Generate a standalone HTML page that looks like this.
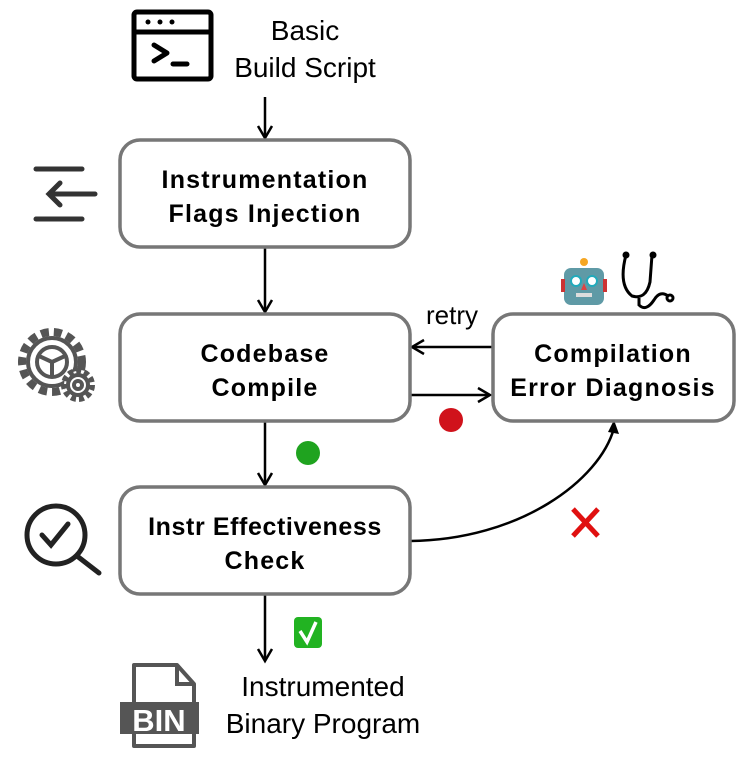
<!DOCTYPE html>
<html><head><meta charset="utf-8"><style>
html,body{margin:0;padding:0;background:#fff;}
svg{display:block;}
.b{font-family:"Liberation Sans","DejaVu Sans",sans-serif;font-weight:bold;font-size:25px;letter-spacing:1.2px;fill:#000;text-anchor:middle;}
.n{font-family:"Liberation Sans","DejaVu Sans",sans-serif;font-size:28px;fill:#000;text-anchor:middle;}
</style></head><body>
<svg width="747" height="763" viewBox="0 0 747 763" xmlns="http://www.w3.org/2000/svg">
<g fill="none" stroke="#000" stroke-width="2.5">
 <line x1="265" y1="97" x2="265" y2="138"/><polyline points="258,126 265,138 272,126"/>
 <line x1="265" y1="248" x2="265" y2="312"/><polyline points="258,300 265,312 272,300"/>
 <line x1="265" y1="422" x2="265" y2="485"/><polyline points="258,473 265,485 272,473"/>
 <line x1="265" y1="595" x2="265" y2="661"/><polyline points="258,649 265,661 272,649"/>
 <line x1="492" y1="347" x2="412" y2="347"/><polyline points="424,340 412,347 424,354"/>
 <line x1="410" y1="395" x2="490" y2="395"/><polyline points="478,388 490,395 478,402"/>
 <path d="M410 541 C520 540 600 480 614 428"/>
</g>
<polygon points="608,432 614,420 619,434" fill="#000"/>
<g fill="#fff" stroke="#777" stroke-width="3.5">
 <rect x="120" y="140" width="290" height="107" rx="20"/>
 <rect x="120" y="314" width="290" height="107" rx="20"/>
 <rect x="493" y="314" width="241" height="107" rx="20"/>
 <rect x="120" y="487" width="290" height="107" rx="20"/>
</g>
<text class="b" x="265" y="188">Instrumentation</text>
<text class="b" x="265" y="222">Flags Injection</text>
<text class="b" x="265" y="362">Codebase</text>
<text class="b" x="265" y="396">Compile</text>
<text class="b" x="613" y="362">Compilation</text>
<text class="b" x="613" y="396">Error Diagnosis</text>
<text class="b" x="265" y="535" style="letter-spacing:0.6px">Instr Effectiveness</text>
<text class="b" x="265" y="569">Check</text>
<text class="n" x="305" y="40">Basic</text>
<text class="n" x="305" y="77">Build Script</text>
<text class="n" x="323" y="696">Instrumented</text>
<text class="n" x="323" y="733">Binary Program</text>
<text class="n" x="452" y="324" style="font-size:26px">retry</text>
<g fill="none" stroke="#000" stroke-width="5">
 <rect x="134" y="12" width="77" height="67" rx="3"/>
 <line x1="134" y1="32" x2="211" y2="32"/>
 <polyline points="154,45 167,53 154,61" stroke-linecap="round" stroke-linejoin="round"/>
 <line x1="173" y1="64" x2="187" y2="64" stroke-linecap="round"/>
</g>
<circle cx="148" cy="22" r="2.5"/><circle cx="160" cy="22" r="2.5"/><circle cx="172" cy="22" r="2.5"/>
<g fill="none" stroke="#333" stroke-width="5" stroke-linecap="round">
 <line x1="36" y1="169" x2="82" y2="169"/><line x1="36" y1="219" x2="82" y2="219"/>
 <line x1="50" y1="194" x2="95" y2="194"/><polyline points="60,183 49,194 60,205"/>
</g>
<g fill="none" stroke="#555" stroke-width="4">
 <circle cx="52" cy="362" r="30" stroke-dasharray="8 5" stroke-width="8"/>
 <circle cx="52" cy="362" r="24"/>
 <circle cx="52" cy="362" r="15"/>
 <line x1="52" y1="362" x2="52" y2="377"/><line x1="52" y1="362" x2="39" y2="356"/><line x1="52" y1="362" x2="65" y2="356"/>
 <circle cx="78" cy="385" r="14" fill="#fff" stroke-dasharray="5 3" stroke-width="6"/>
 <circle cx="78" cy="385" r="10" fill="#fff"/>
 <circle cx="78" cy="385" r="4"/>
</g>
<g fill="none" stroke="#222" stroke-width="5" stroke-linecap="round">
 <circle cx="56" cy="535" r="29"/>
 <line x1="77" y1="556" x2="99" y2="573"/>
 <polyline points="42,535 51,545 68,524"/>
</g>
<g>
 <path d="M134 665 L177 665 L194 684 L194 746 L134 746 Z" fill="none" stroke="#555" stroke-width="4" stroke-linejoin="round"/>
 <path d="M177 665 L177 684 L194 684" fill="none" stroke="#555" stroke-width="4"/>
 <rect x="120" y="702" width="79" height="32" fill="#555"/>
 <text x="159" y="731" style="font-family:'Liberation Sans',sans-serif;font-weight:bold;font-size:31px;fill:#fff;text-anchor:middle">BIN</text>
</g>
<circle cx="451" cy="420" r="12" fill="#d0121b"/>
<circle cx="308" cy="453" r="12" fill="#1fa31f"/>
<rect x="294" y="617" width="28" height="31" rx="4" fill="#22b322"/>
<polyline points="300,631 307,642 316,622" fill="none" stroke="#fff" stroke-width="3.5"/>
<g stroke="#e01010" stroke-width="5"><line x1="573" y1="509" x2="598" y2="536"/><line x1="598" y1="509" x2="573" y2="536"/></g>
<g>
 <rect x="564" y="268" width="40" height="37" rx="7" fill="#5f9aa6"/>
 <rect x="561" y="279" width="4" height="13" fill="#c33"/><rect x="603" y="279" width="4" height="13" fill="#c33"/>
 <circle cx="584" cy="262" r="4" fill="#f5a623"/>
 <circle cx="576" cy="281" r="5" fill="#fff" stroke="#2ab" stroke-width="2"/><circle cx="592" cy="281" r="5" fill="#fff" stroke="#2ab" stroke-width="2"/>
 <polygon points="584,283 581,290 587,290" fill="#d44"/>
 <rect x="576" y="293" width="16" height="4" fill="#ddd"/>
</g>
<g fill="none" stroke="#000" stroke-width="3">
 <path d="M626 255 Q618 285 632 296 Q646 300 650 282 L652 255"/>
 <path d="M639 298 L639 305 Q646 312 654 300 Q660 290 668 296"/>
 <circle cx="670" cy="298" r="3"/>
</g>
<circle cx="626" cy="255" r="3.5"/><circle cx="653" cy="255" r="3.5"/>
</svg>
</body></html>
